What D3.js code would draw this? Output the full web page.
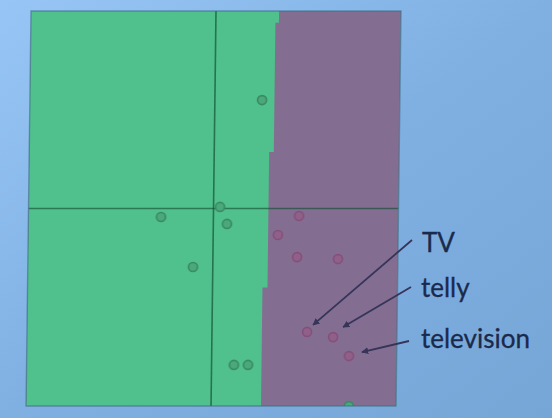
<!DOCTYPE html>
<html><head><meta charset="utf-8">
<script src="https://cdn.jsdelivr.net/npm/d3@7"></script>
<style>html,body{margin:0;padding:0;background:#84b4e4;}svg{display:block}</style>
</head><body>
<svg id="chart" width="552" height="418"></svg>
<script>
// ---- data ----
const greenX = [0.255, 0.035, -0.283, 0.074, -0.107, 0.121, 0.197, 0.745];
const greenY = [0.549, 0.008, -0.043, -0.078, -0.296, -0.792, -0.792, -1.0];
const redX = [0.463, 0.350, 0.455, 0.676, 0.514, 0.655, 0.742];
const redY = [-0.038, -0.134, -0.246, -0.256, -0.625, -0.651, -0.747];
// decision boundary: step breakpoints (y) and boundary x for each band
const boundaryY = [1, 0.94, 0.286, -0.40, -1];
const boundaryX = [0.341, 0.322, 0.297, 0.27];
const labels = ["TV", "telly", "television"];
const labelTarget = [4, 5, 6]; // index into red points

// ---- layout ----
const W = 370, H = 395, ox = 31, oy = 11, skew = -0.01256;
const svg = d3.select("#chart");
const defs = svg.append("defs");
const bg = defs.append("linearGradient").attr("id","bg").attr("x1","0").attr("y1","0").attr("x2","1").attr("y2","1");
bg.append("stop").attr("offset","0").attr("stop-color","#97c6f6");
bg.append("stop").attr("offset","0.5").attr("stop-color","#80b0e2");
bg.append("stop").attr("offset","1").attr("stop-color","#76a6d6");
svg.append("rect").attr("width",552).attr("height",418).attr("fill","url(#bg)");
defs.append("clipPath").attr("id","clip").append("rect").attr("width",W).attr("height",H);
const blur = defs.append("filter").attr("id","soft").attr("x","-5%").attr("y","-5%").attr("width","110%").attr("height","110%");
blur.append("feGaussianBlur").attr("stdDeviation",0.5);
const mk = defs.append("marker").attr("id","arr").attr("viewBox","0 0 10 10").attr("refX",9).attr("refY",5)
  .attr("markerWidth",7).attr("markerHeight",7).attr("markerUnits","userSpaceOnUse").attr("orient","auto");
mk.append("path").attr("d","M0,0L10,5L0,10Z").attr("fill","#363458");

const x = d3.scaleLinear().domain([-1,1]).range([0,W]);
const y = d3.scaleLinear().domain([-1,1]).range([H,0]);

const g = svg.append("g").attr("transform",`matrix(1,0,${skew},1,${ox},${oy})`);
const inner = g.append("g").attr("clip-path","url(#clip)");

// purple (right) class region
inner.append("rect").attr("x",0).attr("y",0).attr("width",W).attr("height",H).attr("fill","#836e92");
// green (left) class region bounded by step boundary
const poly = [[x.domain()[0], boundaryY[0]]];
boundaryX.forEach((bx,i)=>{ poly.push([bx, boundaryY[i]]); poly.push([bx, boundaryY[i+1]]); });
poly.push([x.domain()[0], boundaryY[boundaryY.length-1]]);
inner.append("path").attr("d", d3.line().x(d=>x(d[0])).y(d=>y(d[1]))(poly)+"Z").attr("fill","#50c08c");

// axes through origin
inner.append("line").attr("x1",x(0)).attr("x2",x(0)).attr("y1",0).attr("y2",H)
  .attr("stroke","#0e4a2e").attr("stroke-opacity",0.65).attr("stroke-width",1.6);
inner.append("line").attr("x1",0).attr("x2",W).attr("y1",y(0)).attr("y2",y(0))
  .attr("stroke","#0e4a2e").attr("stroke-opacity",0.6).attr("stroke-width",1.6);

// points
const gp = greenX.map((v,i)=>({x:v,y:greenY[i]}));
const rp = redX.map((v,i)=>({x:v,y:redY[i]}));
const pts = inner.append("g").attr("filter","url(#soft)");
pts.selectAll(".g").data(gp).join("circle").attr("cx",d=>x(d.x)).attr("cy",d=>y(d.y)).attr("r",4.5)
  .attr("fill","#4aa97b").attr("stroke","#3a8a62").attr("stroke-width",1.7);
pts.selectAll(".r").data(rp).join("circle").attr("cx",d=>x(d.x)).attr("cy",d=>y(d.y)).attr("r",4.5)
  .attr("fill","#8f6189").attr("stroke","#86507a").attr("stroke-width",1.7);

// frame
g.append("rect").attr("width",W).attr("height",H).attr("fill","none")
  .attr("stroke","#3d6e80").attr("stroke-opacity",0.6).attr("stroke-width",1.4);

// annotations
const toScreen = (dx,dy)=>[ox + x(dx) + skew*y(dy), oy + y(dy)];
const labelPos = [[422,252],[421,297],[421,348]];
const arrowStart = [[412,240],[411,287],[409,341]];
const tipOff = [[6,-7],[10,-10],[13,-4]];
labels.forEach((t,i)=>{
  const p = rp[labelTarget[i]];
  const s = toScreen(p.x,p.y);
  svg.append("line").attr("x1",arrowStart[i][0]).attr("y1",arrowStart[i][1])
    .attr("x2",s[0]+tipOff[i][0]).attr("y2",s[1]+tipOff[i][1])
    .attr("stroke","#363458").attr("stroke-width",1.8).attr("marker-end","url(#arr)");
  svg.append("text").attr("x",labelPos[i][0]).attr("y",labelPos[i][1]).text(t)
    .attr("font-family","Lato, 'Open Sans', sans-serif").attr("font-size",26)
    .attr("fill","#1a2a4c").attr("stroke","#1a2a4c").attr("stroke-width",0.3);
});
</script>
</body></html>
